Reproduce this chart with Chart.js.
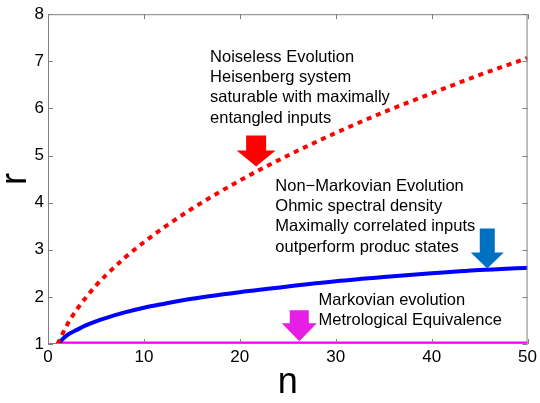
<!DOCTYPE html>
<html>
<head>
<meta charset="utf-8">
<script src="https://cdn.jsdelivr.net/npm/chart.js@4.4.1/dist/chart.umd.min.js"></script>
<style>
  html, body { margin: 0; padding: 0; background: #fff; }
  #wrap { width: 540px; height: 403px; }
</style>
</head>
<body>
<div id="wrap"><canvas id="chart" width="540" height="403"></canvas></div>
<script>
const nValues = [1, 2, 3, 4, 5, 6, 8, 10, 12, 15, 20, 25, 30, 35, 40, 45, 50];
// noiseless evolution (red dotted)
const noiseless = [1, 1.41, 1.73, 2, 2.24, 2.45, 2.83, 3.16, 3.46, 3.87, 4.47, 5, 5.48, 5.92, 6.32, 6.71, 7.07];
// non-markovian (blue)
const nonMarkov = [1, 1.19, 1.3, 1.4, 1.48, 1.55, 1.67, 1.77, 1.85, 1.96, 2.1, 2.22, 2.33, 2.42, 2.5, 2.57, 2.62];
// markovian (magenta)
const markov = [1.01, 1.01, 1.01, 1.01, 1.01, 1.01, 1.01, 1.01, 1.01, 1.01, 1.01, 1.01, 1.01, 1.01, 1.01, 1.01, 1.01];

const xTicks = [0, 10, 20, 30, 40, 50];
const yTicks = [1, 2, 3, 4, 5, 6, 7, 8];

// annotation texts, anchored in data coordinates
const notes = [
  { n: 16.9, r: 7.09, lines: ["Noiseless Evolution", "Heisenberg system", "saturable with maximally", "entangled inputs"] },
  { n: 23.7, r: 4.35, lines: ["Non\u2212Markovian Evolution", "Ohmic spectral density", "Maximally correlated inputs", "outperform produc states"] },
  { n: 28.2, r: 1.93, lines: ["Markovian evolution", "Metrological Equivalence"] }
];
// arrows: tip in data coords, sizes in px
const arrows = [
  { n: 21.7, r: 4.77, color: "#ff0000", body: 20, len: 31, head: 16, width: 39 },
  { n: 45.8, r: 2.6, color: "#0070c0", body: 15, len: 40, head: 16, width: 33 },
  { n: 26.2, r: 1.06, color: "#e61ee6", body: 19, len: 31, head: 18, width: 35 }
];

const pts = (ys) => nValues.map((n, i) => ({ x: n, y: ys[i] }));

const decor = {
  id: "decor",
  afterDatasetsDraw(chart) {
    const { ctx, chartArea: a, scales: { x, y } } = chart;
    ctx.save();
    // frame and inward ticks
    ctx.strokeStyle = "#808080";
    ctx.lineWidth = 1;
    ctx.strokeRect(a.left + 0.5, a.top + 0.5, a.right - a.left - 1, a.bottom - a.top - 1);
    ctx.beginPath();
    xTicks.forEach(v => {
      const px = Math.round(x.getPixelForValue(v)) + 0.5;
      ctx.moveTo(px, a.bottom); ctx.lineTo(px, a.bottom - 5);
      ctx.moveTo(px, a.top); ctx.lineTo(px, a.top + 5);
    });
    yTicks.forEach(v => {
      const py = Math.round(y.getPixelForValue(v)) + 0.5;
      ctx.moveTo(a.left, py); ctx.lineTo(a.left + 5, py);
      ctx.moveTo(a.right, py); ctx.lineTo(a.right - 5, py);
    });
    ctx.stroke();

    // arrows
    arrows.forEach(ar => {
      const tx = x.getPixelForValue(ar.n), ty = y.getPixelForValue(ar.r);
      const top = ty - ar.len, hy = ty - ar.head;
      ctx.fillStyle = ar.color;
      ctx.beginPath();
      ctx.moveTo(tx - ar.body / 2, top);
      ctx.lineTo(tx + ar.body / 2, top);
      ctx.lineTo(tx + ar.body / 2, hy);
      ctx.lineTo(tx + ar.width / 2, hy);
      ctx.lineTo(tx, ty);
      ctx.lineTo(tx - ar.width / 2, hy);
      ctx.lineTo(tx - ar.body / 2, hy);
      ctx.closePath();
      ctx.fill();
    });

    // notes
    ctx.fillStyle = "#000";
    ctx.font = "16.5px 'Liberation Sans', Arial, sans-serif";
    ctx.textBaseline = "middle";
    ctx.textAlign = "left";
    notes.forEach(nt => {
      const px = x.getPixelForValue(nt.n), py = y.getPixelForValue(nt.r);
      nt.lines.forEach((s, i) => ctx.fillText(s, px, py + i * 20.3));
    });

    // axis titles
    ctx.font = "36px 'Liberation Sans', Arial, sans-serif";
    ctx.textAlign = "center";
    ctx.fillText("n", (a.left + a.right) / 2, 383);
    ctx.translate(16, (a.top + a.bottom) / 2);
    ctx.rotate(-Math.PI / 2);
    ctx.fillText("r", 0, 0);
    ctx.restore();
  }
};

new Chart(document.getElementById("chart"), {
  type: "line",
  data: {
    datasets: [
      { data: pts(noiseless), borderColor: "#ff0000", borderWidth: 4, borderDash: [5, 5], pointRadius: 0, cubicInterpolationMode: "monotone" },
      { data: pts(nonMarkov), borderColor: "#0000ff", borderWidth: 4, pointRadius: 0, cubicInterpolationMode: "monotone" },
      { data: pts(markov), borderColor: "#ff00ff", borderWidth: 4, pointRadius: 0 }
    ]
  },
  options: {
    responsive: false,
    animation: false,
    layout: { padding: { top: 12, right: 11, left: 0, bottom: 0 } },
    plugins: { legend: { display: false }, tooltip: { enabled: false } },
    scales: {
      x: {
        type: "linear", min: 0, max: 50,
        grid: { display: false, drawTicks: false }, border: { display: false },
        afterBuildTicks: s => { s.ticks = xTicks.map(v => ({ value: v })); },
        afterFit: s => { s.height = 59; },
        ticks: { color: "#000", padding: 3, maxRotation: 0, font: { size: 17, family: "'Liberation Sans', Arial" } }
      },
      y: {
        min: 1, max: 8,
        grid: { display: false, drawTicks: false }, border: { display: false },
        afterBuildTicks: s => { s.ticks = yTicks.map(v => ({ value: v })); },
        afterFit: s => { s.width = 48; },
        ticks: { color: "#000", padding: 4, font: { size: 17, family: "'Liberation Sans', Arial" } }
      }
    }
  },
  plugins: [decor]
});
</script>
</body>
</html>
